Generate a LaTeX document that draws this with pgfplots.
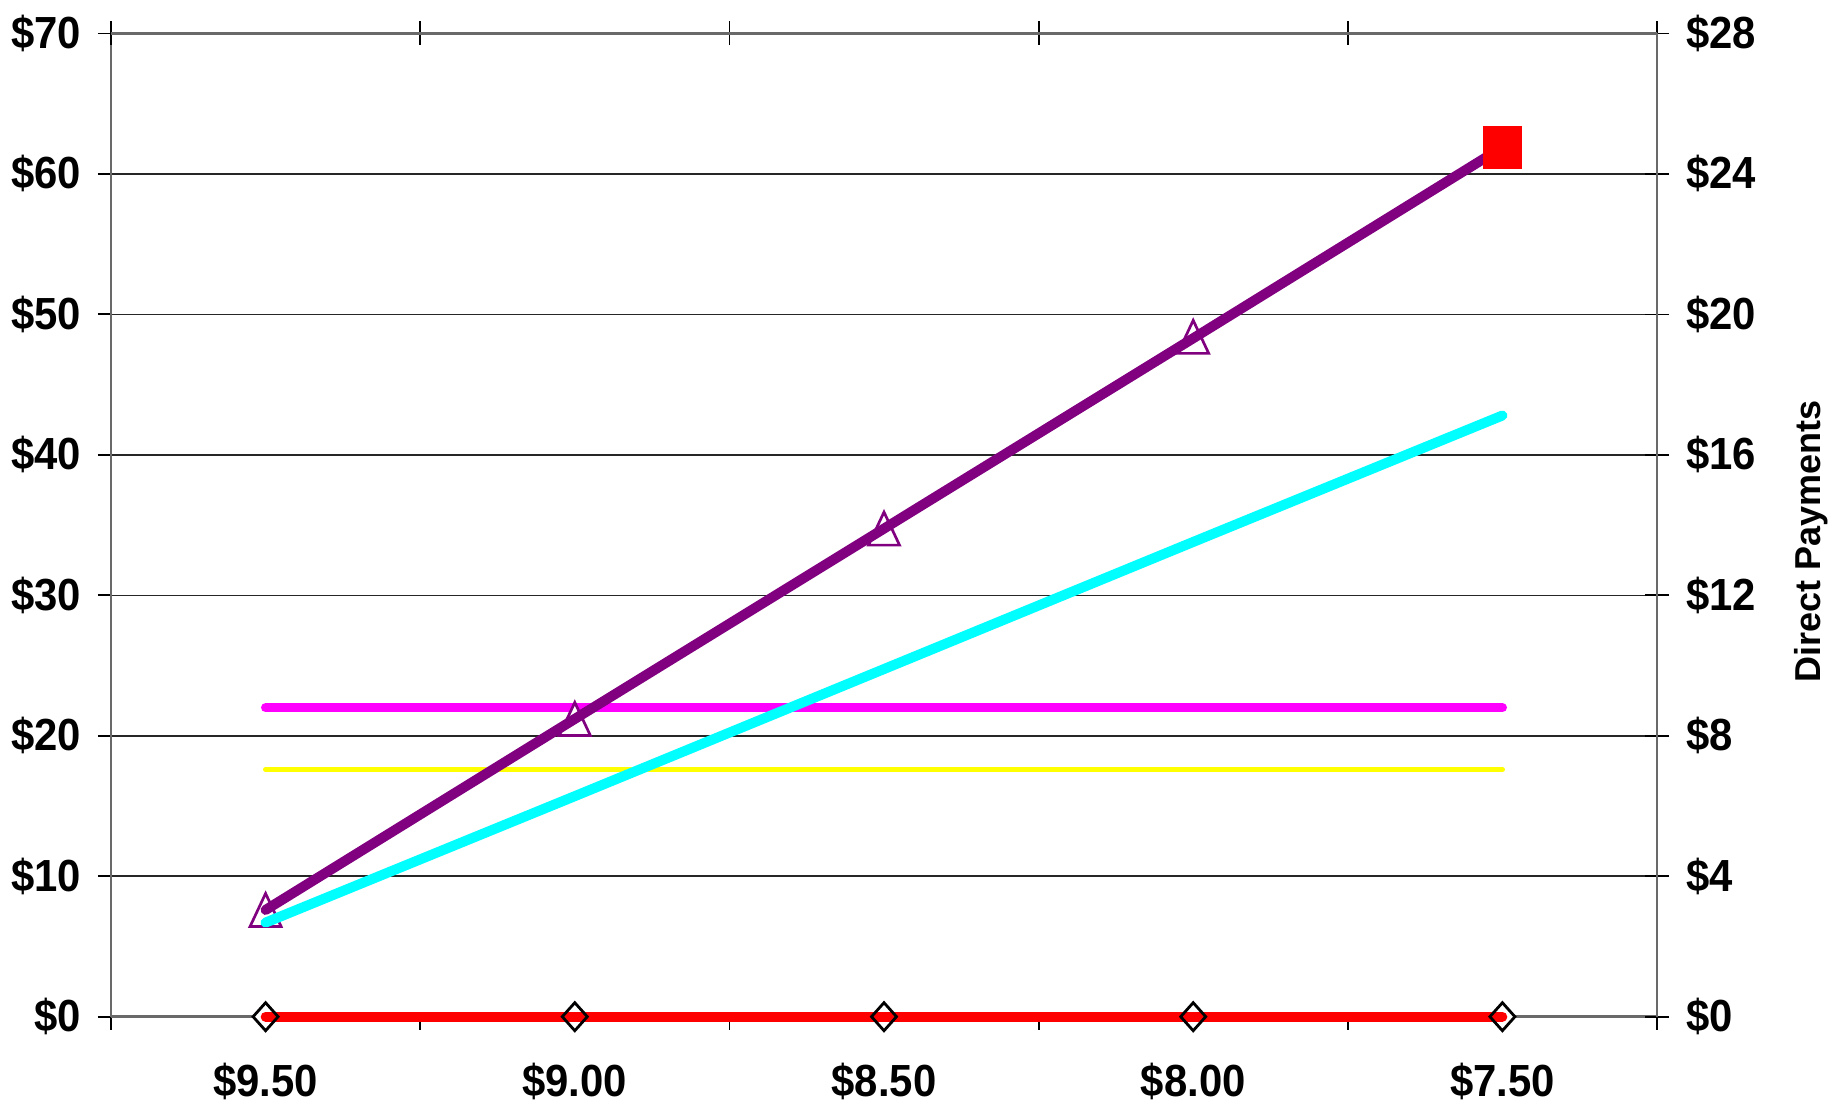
\documentclass[border=0pt]{standalone}
\usepackage{fontspec}
\setmainfont{Liberation Sans}
\newfontfamily\tickfont[FakeStretch=0.93]{Liberation Sans}
\usepackage{pgfplots}
\pgfplotsset{compat=1.18}

\definecolor{pricepurple}{RGB}{128,0,128}
\definecolor{costcyan}{RGB}{0,255,255}
\definecolor{loanmagenta}{RGB}{255,0,255}
\definecolor{targetyellow}{RGB}{255,255,0}
\definecolor{payred}{RGB}{255,0,0}
\definecolor{axisgray}{RGB}{105,105,105}

% open triangle, centred on its bounding box
\pgfdeclareplotmark{opentri}{%
  \pgfpathmoveto{\pgfqpoint{0pt}{8.25pt}}%
  \pgfpathlineto{\pgfqpoint{7.75pt}{-8.25pt}}%
  \pgfpathlineto{\pgfqpoint{-7.75pt}{-8.25pt}}%
  \pgfpathclose\pgfusepathqfillstroke}
% slightly tall diamond: filled version and outline only
\pgfdeclareplotmark{tdiamond}{%
  \pgfpathmoveto{\pgfqpoint{0pt}{7pt}}%
  \pgfpathlineto{\pgfqpoint{6.25pt}{0pt}}%
  \pgfpathlineto{\pgfqpoint{0pt}{-7pt}}%
  \pgfpathlineto{\pgfqpoint{-6.25pt}{0pt}}%
  \pgfpathclose\pgfusepathqfill}
\pgfdeclareplotmark{tdiamondline}{%
  \pgfpathmoveto{\pgfqpoint{0pt}{7pt}}%
  \pgfpathlineto{\pgfqpoint{6.25pt}{0pt}}%
  \pgfpathlineto{\pgfqpoint{0pt}{-7pt}}%
  \pgfpathlineto{\pgfqpoint{-6.25pt}{0pt}}%
  \pgfpathclose\pgfusepathqstroke}
% filled block
\pgfdeclareplotmark{block}{%
  \pgfpathrectangle{\pgfqpoint{-9.75pt}{-10.75pt}}{\pgfqpoint{19.5pt}{21.5pt}}%
  \pgfusepathqfill}

\pgfplotsset{
  chartframe/.style={
    scale only axis, width=773pt, height=491.6pt,
    xmin=-0.5, xmax=4.5, clip=false, clip marker paths=true,
    axis line style={draw=axisgray, line width=1.3pt},
    tick style={black, line width=0.9pt},
    ticklabel style={font=\tickfont\bfseries\fontsize{22.5}{25}\selectfont},
  },
}

\begin{document}
\begin{tikzpicture}
% left scale, price categories along the bottom
\begin{axis}[
  chartframe,
  ymin=0, ymax=70,
  axis x line*=bottom, axis y line*=left,
  xtick={-0.5,0.5,1.5,2.5,3.5,4.5},
  xticklabels={\$9.50,\$9.00,\$8.50,\$8.00,\$7.50},
  x tick label as interval,
  xticklabel style={yshift=-13pt},
  ytick={0,10,...,70},
  yticklabels={\$0,\$10,\$20,\$30,\$40,\$50,\$60,\$70},
  yticklabel style={xshift=-5pt},
  tick align=outside, major tick length=6.5pt,
  ymajorgrids, grid style={black!85, line width=0.75pt},
]
\addplot[targetyellow, line width=2.6pt, line cap=round] coordinates {
  (0,17.6) (1,17.6) (2,17.6) (3,17.6) (4,17.6)};
\addplot[loanmagenta, line width=4.6pt, line cap=round] coordinates {
  (0,22.0) (1,22.0) (2,22.0) (3,22.0) (4,22.0)};
\addplot[only marks, mark=opentri,
  mark options={draw=pricepurple, fill=white, line width=1.35pt}] coordinates {
  (0,7.6) (1,21.2) (2,34.75) (3,48.4)};
\addplot[costcyan, line width=5pt, line cap=round] coordinates {
  (0,6.7) (1,15.7) (2,24.75) (3,33.8) (4,42.8)};
\addplot[pricepurple, line width=5pt, line cap=round] coordinates {
  (0,7.6) (1,21.2) (2,34.75) (3,48.3) (4,61.9)};
\addplot[only marks, mark=block, mark options={fill=payred}] coordinates {
  (4,61.9)};
\end{axis}

% right scale for direct payments, frame along the top
\begin{axis}[
  chartframe,
  ymin=0, ymax=28,
  axis x line*=top, axis y line*=right,
  xtick={-0.5,0.5,1.5,2.5,3.5,4.5}, xticklabels={,,,,,},
  ytick={0,4,...,28},
  yticklabels={\$0,\$4,\$8,\$12,\$16,\$20,\$24,\$28},
  yticklabel style={xshift=5pt},
  tick align=center, major tick length=12pt,
  ylabel={Direct Payments},
  ylabel style={at={(axis description cs:1.0996,0.483)}, anchor=center,
    font=\bfseries\fontsize{18}{20}\selectfont},
]
\addplot[only marks, mark=tdiamond, mark options={fill=white}] coordinates {
  (0,0) (1,0) (2,0) (3,0) (4,0)};
\addplot[payred, line width=4.9pt, line cap=round] coordinates {
  (0,0) (1,0) (2,0) (3,0) (4,0)};
\addplot[only marks, mark=tdiamondline,
  mark options={draw=black, line width=1.4pt}] coordinates {
  (0,0) (1,0) (2,0) (3,0) (4,0)};
\end{axis}

\pgfresetboundingbox
\path[use as bounding box] (-55.5pt,-47.15pt) rectangle (864pt,508.35pt);
\end{tikzpicture}
\end{document}
